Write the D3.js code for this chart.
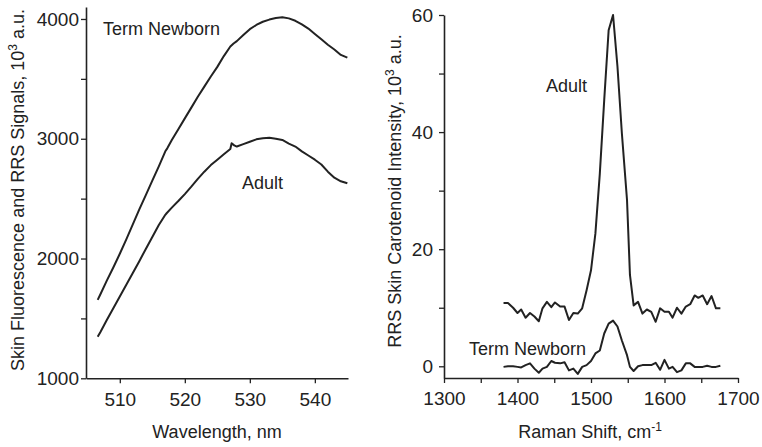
<!DOCTYPE html>
<html><head><meta charset="utf-8">
<script src="https://cdn.jsdelivr.net/npm/d3@7"></script>
<style>
body{margin:0;background:#fff;}
svg{display:block;font-family:"Liberation Sans",Arial,sans-serif;}
</style></head>
<body><svg id="c" width="762" height="447"></svg>
<script>
// ---- Left panel: fluorescence spectra (wavelength nm, signal 10^3 a.u.)
const wlNewborn = [506.6,507,508,509,510,511,512,513,514,515,516,517,517.3,518,519,520,521,522,523,524,525,526,527,527.5,528,529,530,531,532,533,534,535,536,537,538,539,540,541,542,543,544,545];
const sigNewborn = [1655,1700,1815,1925,2040,2160,2285,2410,2530,2650,2770,2895,2920,2990,3080,3170,3260,3350,3435,3520,3600,3690,3770,3795,3815,3866,3915,3950,3977,3995,4008,4014,4005,3985,3955,3920,3875,3830,3785,3745,3700,3677];
const wlAdult = [506.6,507,508,509,510,511,512,513,514,515,516,517,517.2,518,519,520,521,522,523,524,525,526,527,527.2,527.6,528,529,530,531,532,533,534,535,536,537,538,539,540,541,542,543,544,545];
const sigAdult = [1347,1385,1487,1585,1683,1781,1880,1978,2080,2180,2280,2365,2378,2425,2480,2538,2600,2665,2725,2780,2825,2870,2915,2962,2945,2935,2955,2975,2995,3005,3008,3000,2990,2960,2935,2895,2860,2825,2785,2725,2675,2645,2628];
const leftXTicks = [510,520,530,540];
const leftYTicks = [1000,2000,3000,4000];
const leftYMinor = [1500,2500,3500];

// ---- Right panel: RRS carotenoid spectra (Raman shift cm-1, intensity 10^3 a.u.)
const ramanShift = [1381,1387,1394,1400,1405,1411,1417,1423,1429,1434,1440,1446,1451,1458,1464,1470,1476,1482,1488,1494,1500,1506,1512,1518,1524,1530,1536,1542,1549,1553,1558,1564,1570,1576,1582,1588,1594,1600,1606,1611,1617,1623,1629,1635,1641,1646,1652,1658,1664,1670,1676];
const rrsAdult = [10.8,10.8,10.0,9.1,9.7,8.3,9.1,8.5,7.7,9.9,11.0,10.1,10.9,10.2,10.2,7.9,9.1,9.0,9.9,13.0,16.4,22.7,32.9,45.5,57.4,60.0,51.2,39.8,28.4,15.6,10.4,11.0,9.0,9.7,9.3,7.6,9.9,9.3,9.3,8.3,10.0,9.0,10.2,10.6,12.1,11.7,12.1,10.6,12.0,9.9,9.9];
const rrsNewborn = [-0.1,0.0,0.0,-0.1,-0.2,0.2,0.5,-0.4,-1.1,-0.4,-0.1,0.9,0.6,0.5,0.7,-0.7,-0.4,-1.3,-0.1,0.2,0.9,2.2,2.7,5.6,7.3,7.8,6.8,4.4,1.9,-0.1,-0.8,0.0,0.2,0.2,0.2,0.6,-0.6,1.1,-0.4,-0.1,-1.0,-0.7,0.5,0.5,-0.1,-0.1,-0.1,0.1,-0.1,-0.1,0.1];
const rightXTicks = [1300,1400,1500,1600,1700];
const rightXMinor = [1350,1450,1550,1650];
const rightYTicks = [0,20,40,60];
const rightYMinor = [10,30,50];

const ink = "#222";
const fs = 18;
const tfs = 19;
const svg = d3.select("#c");

function axesStyle(g){
  g.selectAll(".domain").attr("stroke",ink).attr("stroke-width",1.6);
  g.selectAll(".tick line").attr("stroke",ink).attr("stroke-width",1.3);
  g.selectAll(".tick text").attr("fill",ink).style("font-size",tfs+"px").style("font-family","Liberation Sans, Arial, sans-serif");
}

// ===== Left panel =====
const xL = d3.scaleLinear().domain([504.8,545.1]).range([86,348]);
const yL = d3.scaleLinear().domain([1000,4100]).range([378.3,7]);

const gLx = svg.append("g").attr("transform","translate(0,378.3)")
  .call(d3.axisBottom(xL).tickValues(leftXTicks).tickSize(5).tickSizeOuter(0).tickPadding(9).tickFormat(d3.format("d")));
axesStyle(gLx);
const gLy = svg.append("g").attr("transform","translate(86,0)")
  .call(d3.axisLeft(yL).tickValues(leftYTicks).tickSize(5).tickSizeOuter(0).tickPadding(2).tickFormat(d3.format("d")));
axesStyle(gLy);
svg.append("g").attr("transform","translate(86,0)")
  .call(d3.axisLeft(yL).tickValues(leftYMinor).tickSize(5).tickSizeOuter(0).tickFormat(""))
  .call(g=>{g.select(".domain").remove(); axesStyle(g);});

const lineL = (xs,ys)=>d3.line().x((d,i)=>xL(xs[i])).y((d,i)=>yL(ys[i]))(ys);
svg.append("path").attr("d",lineL(wlNewborn,sigNewborn)).attr("fill","none").attr("stroke",ink).attr("stroke-width",2).attr("stroke-linejoin","round");
svg.append("path").attr("d",lineL(wlAdult,sigAdult)).attr("fill","none").attr("stroke",ink).attr("stroke-width",2).attr("stroke-linejoin","round");

svg.append("text").attr("x",103).attr("y",35).attr("fill",ink).style("font-size",fs+"px").text("Term Newborn");
svg.append("text").attr("x",242).attr("y",189).attr("fill",ink).style("font-size",fs+"px").text("Adult");

svg.append("text").attr("x",217).attr("y",438).attr("text-anchor","middle").attr("fill",ink).style("font-size",fs+"px").text("Wavelength, nm");
const tL = svg.append("text").attr("transform","translate(24,190) rotate(-90)").attr("text-anchor","middle").attr("fill",ink).style("font-size",fs+"px");
tL.append("tspan").text("Skin Fluorescence and RRS Signals, 10");
tL.append("tspan").attr("dy",-7).style("font-size","12px").text("3");
tL.append("tspan").attr("dy",7).text(" a.u.");

// ===== Right panel =====
const xR = d3.scaleLinear().domain([1300,1700]).range([444,738]);
const yR = d3.scaleLinear().domain([-2,60]).range([378,15]);

const gRx = svg.append("g").attr("transform","translate(0,378)")
  .call(d3.axisBottom(xR).tickValues(rightXTicks).tickSize(5).tickSizeOuter(0).tickPadding(9).tickFormat(d3.format("d")));
axesStyle(gRx);
svg.append("g").attr("transform","translate(0,378)")
  .call(d3.axisBottom(xR).tickValues(rightXMinor).tickSize(5).tickSizeOuter(0).tickFormat(""))
  .call(g=>{g.select(".domain").remove(); axesStyle(g);});
const gRy = svg.append("g").attr("transform","translate(444,0)")
  .call(d3.axisLeft(yR).tickValues(rightYTicks).tickSize(5).tickSizeOuter(0).tickPadding(6).tickFormat(d3.format("d")));
axesStyle(gRy);
svg.append("g").attr("transform","translate(444,0)")
  .call(d3.axisLeft(yR).tickValues(rightYMinor).tickSize(5).tickSizeOuter(0).tickFormat(""))
  .call(g=>{g.select(".domain").remove(); axesStyle(g);});

const lineR = ys=>d3.line().x((d,i)=>xR(ramanShift[i])).y(d=>yR(d))(ys);
svg.append("path").attr("d",lineR(rrsAdult)).attr("fill","none").attr("stroke",ink).attr("stroke-width",2).attr("stroke-linejoin","round");
svg.append("path").attr("d",lineR(rrsNewborn)).attr("fill","none").attr("stroke",ink).attr("stroke-width",2).attr("stroke-linejoin","round");

svg.append("text").attr("x",546).attr("y",92).attr("fill",ink).style("font-size",fs+"px").text("Adult");
svg.append("text").attr("x",469).attr("y",355).attr("fill",ink).style("font-size",fs+"px").text("Term Newborn");

const tRx = svg.append("text").attr("x",590).attr("y",438).attr("text-anchor","middle").attr("fill",ink).style("font-size",fs+"px");
tRx.append("tspan").text("Raman Shift, cm");
tRx.append("tspan").attr("dy",-7).style("font-size","12px").text("-1");
const tR = svg.append("text").attr("transform","translate(401,191) rotate(-90)").attr("text-anchor","middle").attr("fill",ink).style("font-size",fs+"px");
tR.append("tspan").text("RRS Skin Carotenoid Intensity, 10");
tR.append("tspan").attr("dy",-7).style("font-size","12px").text("3");
tR.append("tspan").attr("dy",7).text(" a.u.");
</script></body></html>
